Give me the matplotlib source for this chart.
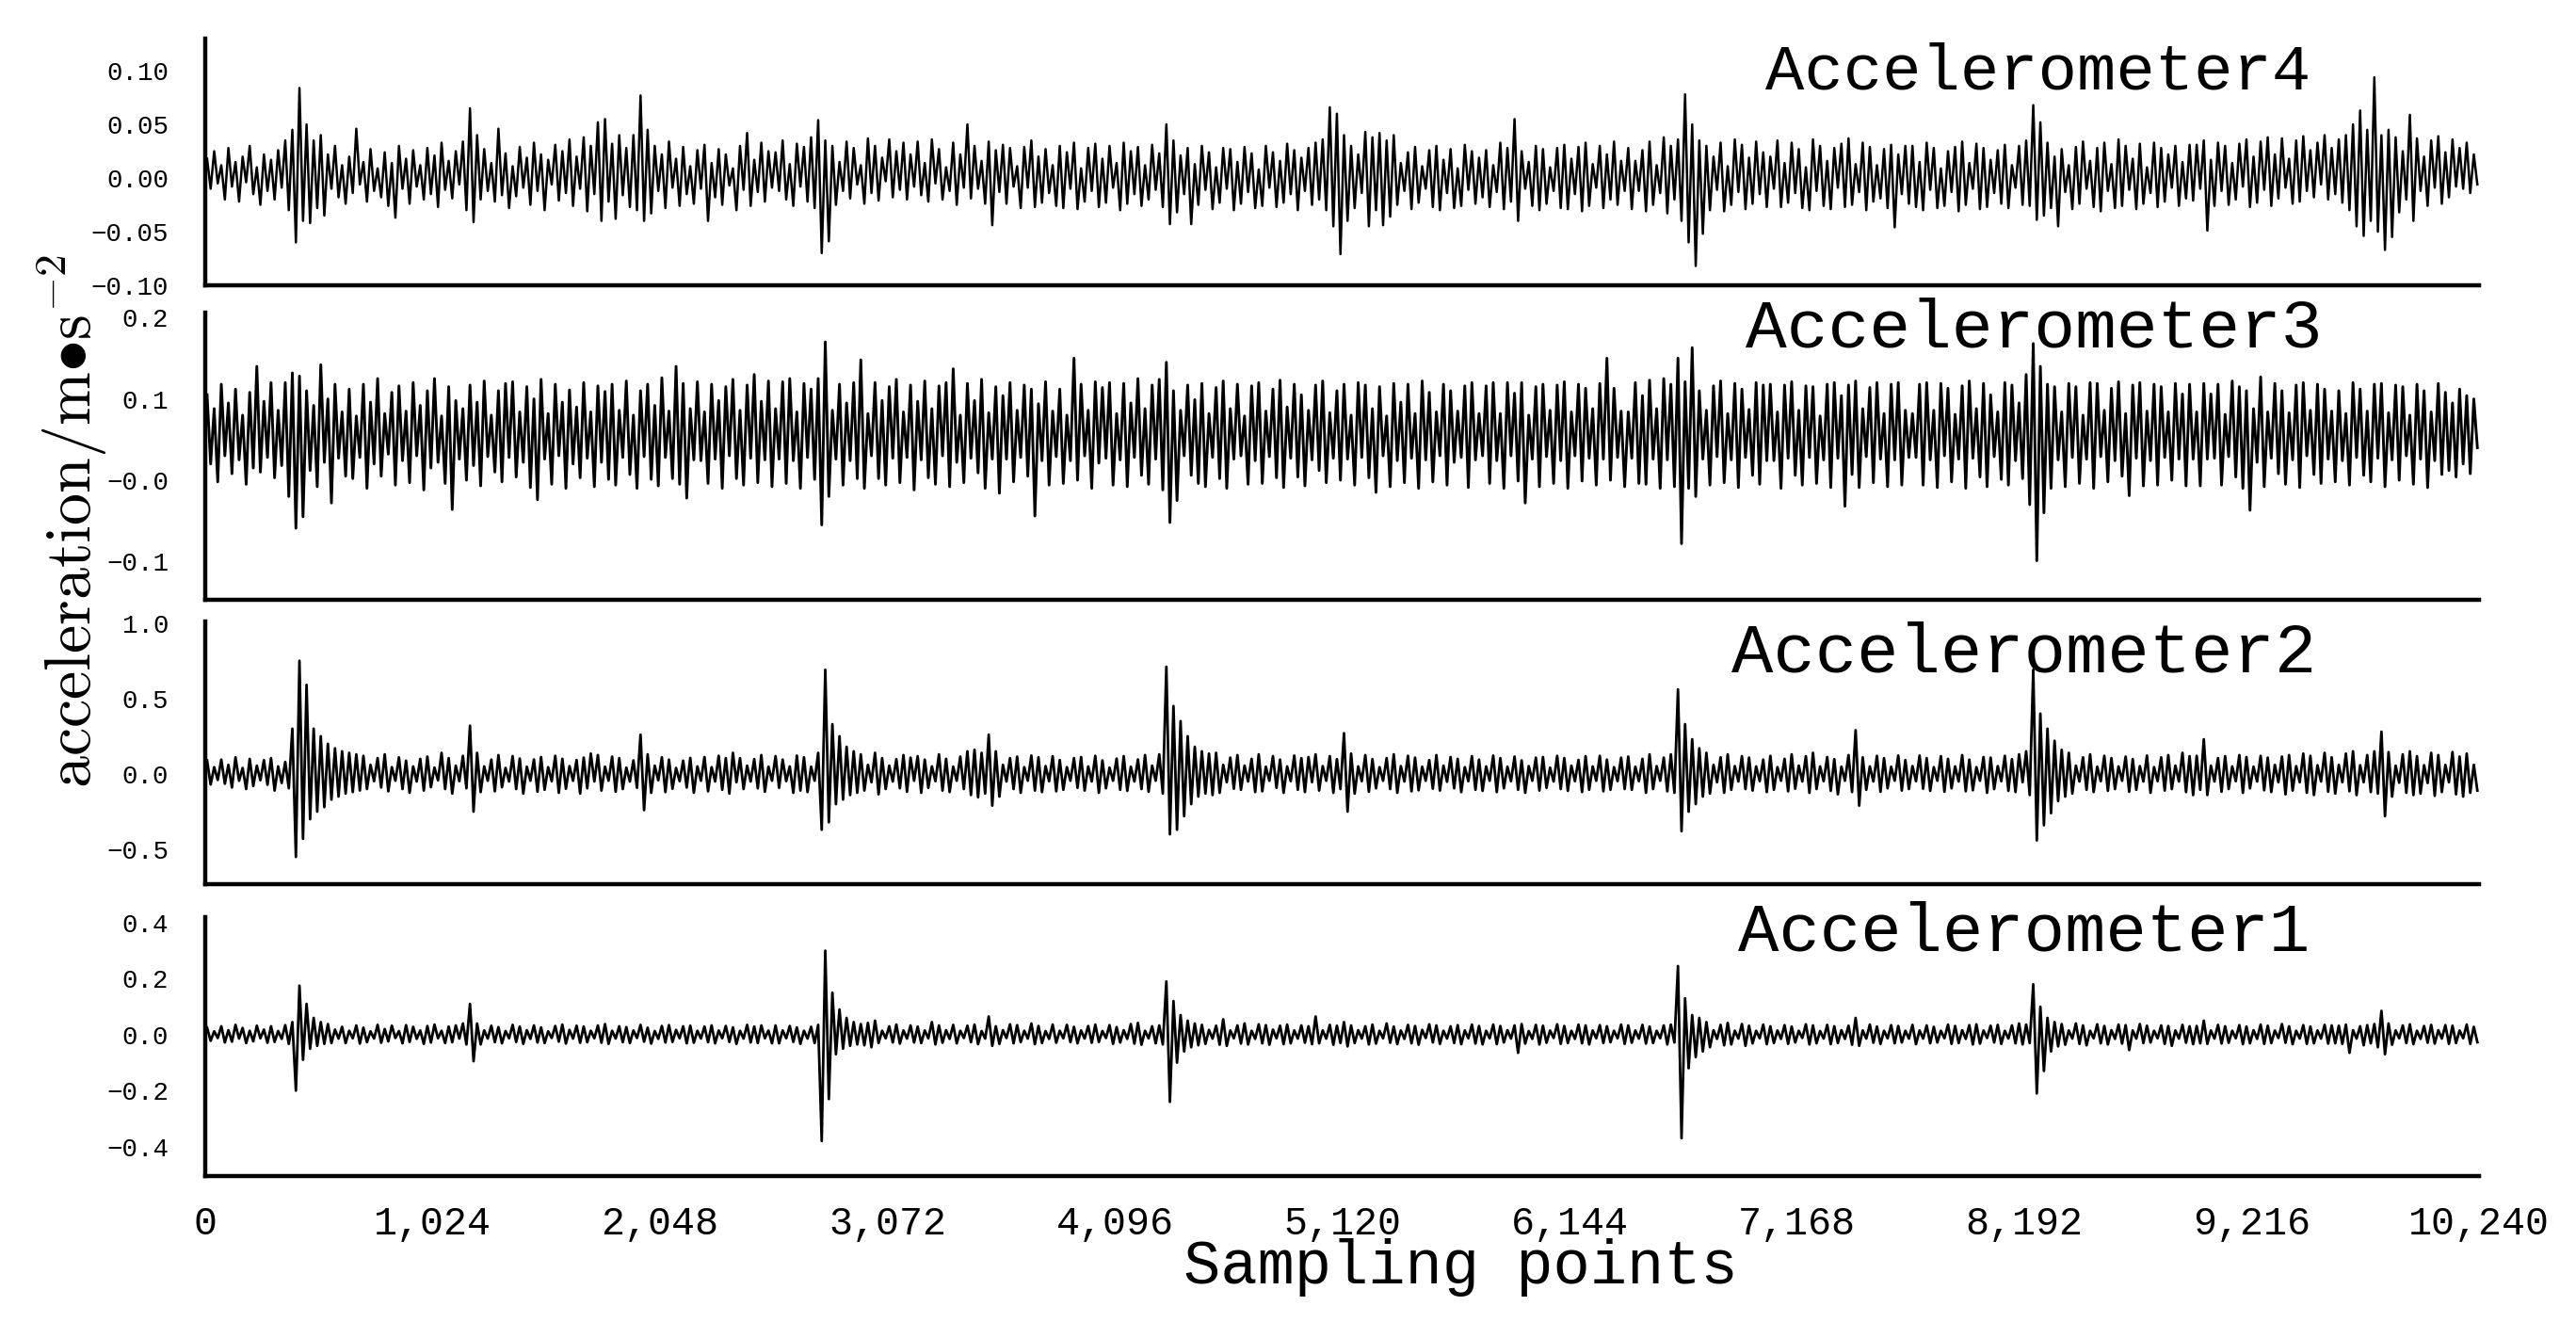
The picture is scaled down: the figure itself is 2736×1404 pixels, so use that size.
import numpy as np
import matplotlib
matplotlib.use("Agg")
import matplotlib.pyplot as plt

# ---------------------------------------------------------------------------
# Data: successive local peaks / troughs of each record, one every 16
# samples (640 points = 10240 samples).
# Units: 1e-3 m/s^2.  Each row covers 640 samples.
# ---------------------------------------------------------------------------
STEP = 16
N_SAMPLES = 10240

acc4 = [
    18, -10, 25, -5, 12, -20, 28, -8, 15, -22, 20, -4, 30, -15, 10, -25, 22, -12, 17, -20, 26, -9, 35, -30, 45, -60, 84, -40, 50, -42, 35, -28, 40, -35, 22, -10, 30, -18, 12, -24,
    20, -14, 46, -6, 15, -22, 27, -12, 9, -18, 24, -26, 14, -37, 30, -10, 18, -24, 26, -8, 12, -20, 28, -15, 21, -27, 33, -11, 16, -19, 25, -6, 34, -30, 65, -41, 40, -20, 27, -12,
    14, -22, 46, -16, 23, -28, 11, -17, 29, -9, 19, -25, 33, -12, 22, -30, 17, -6, 31, -21, 25, -14, 36, -26, 20, -10, 38, -31, 30, -15, 52, -40, 55, -22, 32, -38, 40, -16, 28, -27,
    40, -30, 77, -40, 45, -33, 30, -12, 22, -28, 34, -9, 18, -26, 29, -15, 11, -24, 26, -10, 31, -40, 14, -18, 27, -25, 22, -7, 9, -30, 30, -11, 42, -26, 17, -13, 33, -22, 25, -9,
    24, -12, 35, -20, 13, -26, 32, -8, 29, -22, 38, -28, 54, -70, 35, -59, 30, -25, 15, -12, 34, -19, 28, -6, 12, -24, 37, -14, 30, -21, 19, -3, 36, -18, 25, -11, 33, -20, 22, -8,
    34, -16, 14, -22, 36, -5, 27, -20, 10, -12, 33, -25, 22, -9, 50, -19, 30, -10, 16, -24, 34, -44, 26, -13, 31, -24, 28, -8, 11, -28, 29, -9, 35, -27, 20, -23, 27, -14, 12, -26,
    30, -28, 24, -10, 33, -29, 9, -22, 28, -12, 32, -27, 18, -23, 30, -9, 14, -30, 33, -24, 25, -15, 29, -26, 12, -20, 31, -11, 23, -27, 50, -43, 35, -32, 21, -15, 28, -43, 13, -25,
    30, -11, 24, -29, 10, -23, 28, -10, 27, -30, 15, -24, 29, -13, 23, -28, 8, -26, 30, -9, 24, -27, 16, -23, 32, -15, 26, -30, 19, -12, 28, -25, 33, -20, 36, -30, 66, -45, 60, -71,
    40, -40, 30, -28, 22, -14, 43, -45, 38, -30, 42, -44, 35, -36, 40, -25, 14, -12, 24, -29, 29, -23, 11, -10, 26, -27, 30, -30, 17, -14, 27, -28, 9, -26, 31, -11, 25, -24, 19, -18,
    26, -27, 12, -13, 33, -29, 28, -22, 55, -40, 25, -10, 15, -26, 30, -30, 27, -24, 10, -12, 28, -28, 31, -29, 18, -15, 29, -31, 33, -26, 13, -9, 30, -28, 22, -20, 34, -25, 16, -12,
    28, -29, 16, -12, 26, -31, 34, -25, 12, -14, 38, -33, 30, -20, 36, -40, 78, -60, 50, -82, 35, -52, 30, -30, 20, -11, 33, -31, 11, -25, 36, -13, 31, -29, 19, -24, 34, -15, 24, -27,
    20, -10, 35, -27, 14, -23, 33, -14, 27, -28, 10, -30, 36, -12, 30, -26, 16, -29, 28, -9, 32, -27, 37, -25, 13, -13, 33, -30, 29, -22, 12, -19, 27, -28, 31, -46, 22, -15, 30, -24,
    30, -27, 15, -30, 33, -11, 28, -28, 9, -26, 25, -13, 29, -31, 34, -25, 14, -10, 32, -29, 28, -27, 17, -14, 26, -24, 31, -28, 12, -9, 30, -25, 35, -26, 68, -39, 52, -35, 33, -28,
    20, -45, 27, -13, 12, -29, 29, -24, 34, -10, 16, -27, 28, -31, 33, -12, 13, -28, 36, -26, 30, -11, 18, -29, 32, -24, 10, -14, 33, -27, 28, -22, 22, -9, 30, -26, 15, -19, 31, -21,
    31, -10, 35, -49, 17, -26, 33, -12, 30, -25, 14, -20, 32, -8, 36, -27, 20, -23, 34, -11, 38, -26, 22, -19, 37, -9, 18, -24, 35, -22, 39, -12, 26, -18, 33, -6, 40, -20, 28, -15,
    36, -23, 40, -30, 50, -45, 63, -54, 45, -40, 94, -50, 40, -67, 45, -55, 38, -32, 25, -20, 59, -40, 37, -12, 20, -26, 35, -9, 39, -24, 24, -18, 36, -8, 28, -10, 33, -14, 22, -6,
]

acc3 = [
    105, 20, 88, -2, 118, 30, 95, 8, 112, 25, 80, -5, 108, 15, 140, 10, 97, 28, 120, 3, 86, 18, 120, -20, 132, -59, 128, -45, 110, 12, 92, -8, 142, 22, 100, -28, 118, 27, 84, 5,
    112, 2, 79, 28, 118, -10, 96, 20, 125, 5, 82, 32, 108, -6, 116, 24, 85, -3, 120, 30, 92, -12, 110, 15, 125, 22, 79, -4, 115, -36, 98, 26, 88, 0, 117, 18, 96, -7, 122, 29,
    80, 10, 110, -2, 119, 28, 121, 4, 84, 22, 115, -9, 100, -24, 124, 26, 82, -5, 118, 30, 96, -10, 111, 20, 90, 3, 120, 27, 84, -8, 116, 22, 109, 1, 118, -6, 86, 28, 122, 7,
    80, -10, 110, 29, 118, 1, 92, -7, 126, 28, 85, 2, 140, -5, 119, -22, 88, 25, 121, 24, 84, -4, 118, 26, 98, -10, 115, 30, 124, 2, 86, -6, 117, 27, 130, -3, 97, 25, 122, -8,
    88, 26, 121, -4, 125, 24, 84, -10, 119, 28, 112, 1, 125, -55, 170, -20, 86, 26, 118, -6, 95, 24, 120, 2, 148, -10, 82, 30, 120, 2, 98, -6, 115, 27, 124, -3, 84, 28, 117, -12,
    97, 25, 122, 3, 88, -5, 116, 30, 120, -8, 137, 22, 80, -3, 119, 27, 98, 9, 124, -10, 83, 26, 115, -16, 104, 26, 120, -2, 86, 28, 117, 5, 112, -44, 94, 24, 121, -6, 85, 29,
    112, -4, 80, 24, 150, 0, 118, 30, 86, -10, 121, 21, 114, 27, 120, -6, 82, 25, 119, -8, 95, 28, 125, 6, 88, -5, 117, 26, 124, -12, 145, -52, 110, -25, 86, 30, 117, 6, 99, -4,
    119, -8, 82, 28, 114, 2, 122, -10, 88, 26, 118, 30, 79, -5, 116, 24, 120, -4, 85, 29, 112, 3, 123, -9, 90, 27, 118, 4, 105, -7, 86, 25, 117, 12, 122, -3, 83, 27, 110, 0,
    118, 26, 80, -6, 120, 28, 117, 3, 88, -15, 115, 30, 79, -8, 119, 24, 96, -3, 118, 27, 82, -10, 122, 25, 108, -2, 84, 30, 118, -6, 110, 22, 85, 28, 116, -9, 120, 25, 82, 30,
    116, -4, 120, 24, 82, -10, 120, 30, 107, -1, 120, -28, 80, 26, 115, -8, 118, 29, 86, -4, 117, 24, 121, -10, 84, 30, 118, -1, 113, 27, 88, -6, 119, 26, 150, 0, 113, 28, 85, -8,
    84, 27, 120, -4, 104, -5, 123, 26, 88, -10, 125, 25, 118, -8, 150, -78, 121, -10, 163, -20, 110, 26, 86, -6, 116, 29, 122, -3, 82, 25, 119, -9, 112, 28, 87, 6, 120, -5, 117, 24,
    118, 24, 84, -10, 117, 27, 121, 6, 86, -6, 116, 28, 115, -4, 79, 25, 118, -9, 120, 27, 104, -32, 117, 7, 122, -9, 88, 29, 114, -3, 120, 26, 82, -8, 118, 25, 120, -6, 86, 28,
    82, 28, 118, -6, 120, 25, 86, -9, 119, 30, 113, -2, 81, 26, 116, -10, 122, 27, 88, 4, 119, -8, 105, 29, 84, 1, 120, -6, 117, 24, 95, 2, 130, -30, 168, -99, 140, -40, 118, -10,
    115, 25, 84, -8, 119, 28, 115, -4, 80, 26, 120, -10, 119, 29, 86, -2, 113, 24, 121, 5, 82, -19, 117, 27, 120, -7, 85, 24, 118, -6, 115, 28, 84, 0, 119, 26, 106, -7, 118, 26,
    84, -7, 119, 26, 106, 27, 118, -6, 81, 29, 122, 4, 115, -10, 110, -37, 88, 22, 127, -8, 84, 27, 119, 8, 110, -5, 83, 25, 117, -9, 120, 30, 86, 7, 118, -4, 112, 26, 85, -2,
    110, 24, 82, -6, 120, 28, 112, 6, 85, -2, 118, 27, 119, -8, 83, 25, 117, 0, 115, 30, 80, -5, 118, 26, 110, -9, 84, 24, 119, 7, 108, 12, 95, 4, 112, 20, 104, 8, 100, 40,
]

acc2 = [
    90, -70, 45, -40, 95, -65, 60, -90, 110, -45, 40, -100, 100, -80, 55, -42, 92, -72, 105, -110, 50, -60, 80, -95, 300, -550, 750, -430, 590, -300, 300, -250, 250, -220, 200, -170, 170, -150, 150, -130,
    140, -120, 130, -110, 120, -100, 60, -48, 105, -90, 130, -115, 45, -45, 110, -100, 88, -125, 50, -50, 100, -110, 115, -88, 42, -42, 140, -100, 105, -130, 55, -48, 120, -95, 320, -250, 140, -120, 50, -45,
    95, -115, 125, -88, 40, -50, 118, -100, 102, -130, 48, -45, 96, -118, 112, -105, 45, -48, 120, -125, 100, -98, 52, -45, 92, -130, 108, -95, 135, -50, 125, -110, 48, -45, 115, -118, 105, -100, 42, -50,
    90, -92, 260, -240, 130, -125, 55, -42, 110, -120, 95, -98, 40, -48, 88, -90, 106, -125, 50, -45, 112, -115, 45, -50, 120, -105, 105, -130, 140, -55, 105, -100, 55, -50, 98, -95, 125, -118, 48, -45,
    118, -92, 95, -48, 50, -125, 122, -110, 110, -120, 48, -45, 140, -370, 690, -320, 330, -200, 250, -170, 180, -140, 150, -125, 130, -110, 60, -55, 140, -135, 105, -100, 55, -50, 98, -95, 125, -118, 108, -45,
    118, -125, 95, -92, 50, -48, 130, -110, 100, -120, 48, -45, 115, -100, 150, -140, 160, -155, 140, -130, 260, -210, 150, -150, 60, -50, 105, -100, 115, -125, 45, -45, 122, -110, 110, -120, 52, -48, 118, -115,
    92, -105, 45, -45, 105, -92, 112, -110, 50, -50, 120, -125, 90, -95, 42, -45, 102, -105, 118, -112, 48, -50, 96, -100, 125, -118, 55, -45, 130, -130, 710, -400, 450, -370, 350, -280, 250, -200, 180, -150,
    150, -130, 135, -140, 140, -125, 60, -55, 108, -98, 125, -105, 55, -50, 100, -120, 130, -115, 48, -45, 118, -92, 95, -125, 50, -48, 122, -105, 105, -120, 112, -55, 130, -110, 52, -45, 118, -125, 98, -100,
    270, -250, 135, -130, 50, -48, 125, -118, 98, -95, 45, -45, 105, -100, 130, -125, 52, -50, 120, -115, 108, -108, 48, -45, 92, -98, 125, -110, 55, -52, 112, -95, 100, -120, 45, -48, 118, -105, 95, -112,
    50, -45, 122, -120, 105, -95, 48, -48, 115, -105, 90, -125, 52, -45, 108, -110, 112, -92, 42, -50, 120, -100, 105, -112, 55, -48, 93, -120, 118, -105, 50, -45, 120, -115, 95, -105, 45, -48, 108, -100,
    115, -105, 48, -48, 100, -125, 130, -100, 52, -45, 108, -115, 130, -125, 560, -380, 330, -250, 230, -200, 170, -150, 140, -130, 60, -55, 110, -125, 130, -105, 52, -50, 118, -100, 108, -110, 50, -48, 95, -120,
    120, -105, 45, -45, 100, -115, 130, -98, 55, -50, 118, -125, 140, -100, 50, -48, 112, -112, 98, -135, 48, -45, 125, -120, 290, -210, 110, -105, 50, -50, 120, -118, 105, -95, 48, -45, 122, -110, 92, -100,
    52, -48, 122, -98, 105, -112, 45, -45, 118, -118, 100, -95, 50, -50, 125, -115, 95, -108, 45, -45, 112, -125, 108, -100, 52, -48, 120, -112, 98, -120, 130, -55, 150, -140, 690, -440, 400, -340, 300, -260,
    220, -180, 160, -150, 140, -130, 55, -50, 110, -105, 130, -120, 48, -48, 120, -112, 105, -100, 50, -45, 115, -118, 98, -105, 52, -50, 122, -125, 45, -48, 110, -110, 125, -100, 55, -50, 140, -120, 118, -140,
    120, -105, 230, -140, 55, -50, 105, -118, 118, -100, 50, -48, 125, -125, 112, -95, 48, -50, 120, -108, 108, -120, 60, -55, 115, -135, 125, -110, 52, -55, 135, -125, 120, -140, 58, -50, 140, -118, 110, -130,
    60, -55, 135, -115, 150, -140, 58, -55, 125, -120, 150, -130, 280, -280, 145, -150, 55, -58, 130, -125, 150, -140, 118, -130, 58, -60, 140, -145, 125, -120, 60, -55, 145, -135, 115, -150, 135, -125, 60, -110,
]

acc1 = [
    25, -22, 12, -12, 30, -28, 16, -25, 35, -14, 24, -30, 14, -24, 32, -13, 18, -29, 30, -26, 13, -15, 34, -33, 45, -200, 175, -90, 110, -50, 60, -40, 45, -33, 38, -30, 18, -14, 28, -30,
    14, -13, 33, -32, 25, -27, 12, -14, 35, -29, 20, -24, 32, -12, 13, -31, 34, -26, 28, -15, 15, -33, 31, -28, 36, -13, 14, -30, 29, -27, 33, -14, 40, -35, 110, -95, 40, -35, 15, -14,
    32, -27, 27, -31, 13, -13, 35, -26, 29, -33, 16, -15, 33, -28, 26, -30, 12, -12, 31, -25, 36, -32, 17, -14, 32, -29, 29, -27, 14, -13, 33, -29, 38, -33, 14, -14, 30, -27, 27, -30,
    15, -12, 35, -25, 25, -32, 13, -15, 31, -28, 34, -26, 17, -13, 30, -31, 32, -29, 14, -14, 29, -27, 33, -31, 15, -13, 31, -26, 26, -33, 14, -14, 35, -28, 29, -30, 33, -13, 15, -31,
    33, -31, 15, -13, 31, -26, 26, -33, 14, -14, 28, -30, 35, -380, 300, -230, 150, -70, 90, -50, 60, -40, 45, -35, 38, -38, 42, -45, 50, -30, 14, -13, 30, -28, 36, -32, 15, -14, 33, -28,
    29, -30, 15, -13, 45, -35, 33, -29, 16, -15, 35, -31, 14, -12, 32, -27, 36, -34, 13, -14, 65, -40, 30, -33, 16, -12, 37, -31, 34, -27, 14, -14, 40, -34, 31, -30, 13, -15, 36, -29,
    14, -13, 35, -27, 28, -31, 15, -14, 31, -29, 36, -26, 13, -12, 34, -33, 27, -28, 16, -15, 38, -32, 42, -36, 14, -13, 30, -31, 33, -35, 190, -240, 120, -100, 70, -60, 50, -45, 40, -38,
    35, -33, 17, -14, 32, -36, 55, -40, 15, -13, 33, -32, 40, -35, 14, -15, 37, -31, 34, -36, 18, -13, 32, -34, 36, -31, 15, -14, 33, -29, 30, -34, 65, -31, 15, -14, 35, -36, 32, -30,
    45, -42, 33, -30, 16, -14, 30, -35, 36, -32, 14, -13, 40, -29, 29, -34, 15, -15, 35, -31, 31, -36, 17, -12, 37, -28, 33, -33, 14, -14, 30, -30, 34, -34, 15, -13, 36, -32, 31, -35,
    14, -13, 36, -34, 31, -28, 16, -14, 33, -65, 38, -32, 13, -15, 35, -35, 32, -29, 15, -12, 37, -33, 31, -30, 14, -15, 36, -31, 33, -35, 15, -13, 34, -30, 30, -27, 14, -13, 36, -33,
    33, -29, 15, -14, 35, -32, 29, -30, 14, -13, 33, -35, 36, -28, 245, -370, 130, -120, 70, -80, 60, -60, 45, -45, 16, -15, 35, -38, 42, -35, 14, -14, 38, -40, 32, -31, 14, -13, 36, -34,
    30, -30, 15, -15, 34, -33, 29, -28, 14, -12, 37, -35, 33, -31, 13, -14, 35, -34, 30, -30, 16, -15, 32, -36, 60, -40, 15, -14, 36, -29, 29, -33, 14, -13, 34, -31, 31, -28, 14, -14,
    35, -34, 15, -14, 33, -31, 28, -28, 14, -13, 36, -33, 31, -30, 16, -15, 34, -35, 37, -32, 15, -12, 32, -28, 35, -33, 14, -14, 33, -31, 40, -35, 36, -30, 180, -210, 100, -130, 60, -60,
    45, -42, 38, -36, 15, -14, 40, -33, 33, -38, 14, -13, 37, -31, 31, -35, 16, -15, 36, -32, 34, -55, 15, -14, 38, -30, 32, -28, 14, -13, 33, -33, 31, -40, 15, -14, 35, -29, 30, -34,
    31, -31, 50, -33, 15, -14, 35, -32, 30, -29, 14, -13, 34, -34, 29, -31, 16, -15, 36, -33, 32, -30, 15, -12, 38, -29, 30, -34, 14, -14, 34, -33, 29, -31, 15, -14, 35, -32, 33, -31,
    32, -33, 36, -65, 16, -14, 30, -38, 34, -31, 38, -45, 85, -70, 40, -36, 15, -13, 33, -30, 37, -34, 14, -15, 31, -29, 35, -32, 16, -14, 34, -33, 32, -30, 15, -13, 36, -33, 28, -27,
]

names = ["Accelerometer4", "Accelerometer3", "Accelerometer2", "Accelerometer1"]
series = [acc4, acc3, acc2, acc1]

ytick_vals = [
    [-0.10, -0.05, 0.0, 0.05, 0.10],
    [-0.1, 0.0, 0.1, 0.2],
    [-0.5, 0.0, 0.5, 1.0],
    [-0.4, -0.2, 0.0, 0.2, 0.4],
]
ytick_labels = [
    ["\u22120.10", "\u22120.05", "0.00", "0.05", "0.10"],
    ["\u22120.1", "\u22120.0", "0.1", "0.2"],
    ["\u22120.5", "0.0", "0.5", "1.0"],
    ["\u22120.4", "\u22120.2", "0.0", "0.2", "0.4"],
]
xtick_vals = list(range(0, N_SAMPLES + 1, 1024))

# ---------------------------------------------------------------------------
# Layout (figure fractions) and styling
# ---------------------------------------------------------------------------
YLIMS = [(-0.10, 0.13), (-0.147, 0.206), (-0.73, 1.01), (-0.505, 0.42)]
AX_BOX = [  # left, bottom, width, height
    (0.0797, 0.7842, 0.8827, 0.1866),
    (0.0797, 0.5463, 0.8827, 0.2172),
    (0.0797, 0.3312, 0.8827, 0.1987),
    (0.0797, 0.1104, 0.8827, 0.1959),
]
TITLE_POS = [(0.806, 0.794), (0.804, 0.882), (0.800, 0.810), (0.800, 0.869)]
TITLE_FS = [24.8, 26.3, 26.6, 26.0]
LINE_W = [0.9, 1.05, 1.0, 1.0]

FONT = ["Liberation Mono", "DejaVu Sans Mono"]
plt.rcParams["mathtext.fontset"] = "cm"

fig = plt.figure(figsize=(13.68, 7.02), dpi=200)

for i in range(4):
    ax = fig.add_axes(AX_BOX[i])
    y = np.asarray(series[i], dtype=float) * 1e-3
    x = np.arange(len(y)) * STEP + STEP / 2
    ax.plot(x, y, color="black", lw=LINE_W[i])
    ax.set_xlim(0, N_SAMPLES)
    ax.set_ylim(*YLIMS[i])

    for side in ("top", "right"):
        ax.spines[side].set_visible(False)
    for side in ("left", "bottom"):
        ax.spines[side].set_linewidth(1.6)
        ax.spines[side].set_color("black")

    ax.set_yticks(ytick_vals[i])
    ax.set_yticklabels(ytick_labels[i], family=FONT, fontsize=9.9)
    ax.tick_params(axis="y", length=0, pad=14)

    ax.set_xticks(xtick_vals)
    if i == 3:
        ax.set_xticklabels([f"{v:,}" for v in xtick_vals], family=FONT,
                           fontsize=15)
        ax.tick_params(axis="x", length=0, pad=11)
    else:
        ax.tick_params(axis="x", length=0, labelbottom=False)

    tx, ty = TITLE_POS[i]
    ax.text(tx, ty, names[i], transform=ax.transAxes, ha="center",
            va="baseline", family=FONT, fontsize=TITLE_FS[i])

fig.text(0.567, 0.029, "Sampling points", ha="center", va="baseline",
         family=FONT, fontsize=23.6)
fig.text(0.028, 0.404, r"$\mathrm{acceleration/m}{\bullet}\mathrm{s}^{-2}$",
         rotation=90, ha="center", va="bottom", fontsize=24.5)

fig.savefig("out.png", dpi=200, facecolor="white")
